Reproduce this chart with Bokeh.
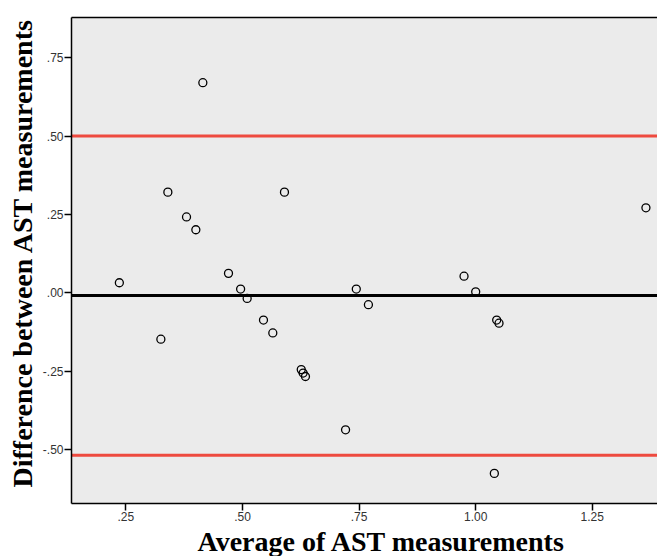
from bokeh.plotting import figure
from bokeh.models import Span, LinearAxis, FixedTicker, Range1d, Title
from bokeh.embed import file_html
from bokeh.resources import INLINE

# ---- data ----
avg_ast = [0.415, 0.340, 0.380, 0.400, 0.236, 0.590, 0.470, 0.496, 0.510,
           0.744, 0.770, 0.545, 0.565, 0.325, 0.975, 1.000, 1.045, 1.050,
           0.626, 0.630, 0.635, 0.721, 1.040, 1.365]
diff_ast = [0.670, 0.321, 0.242, 0.201, 0.032, 0.321, 0.062, 0.012, -0.018,
            0.012, -0.038, -0.087, -0.128, -0.148, 0.053, 0.003, -0.087, -0.097,
            -0.245, -0.256, -0.267, -0.437, -0.576, 0.271]
mean_diff = -0.009
upper_loa = 0.500
lower_loa = -0.518

x_ticks = [0.25, 0.50, 0.75, 1.00, 1.25]
x_tick_labels = [".25", ".50", ".75", "1.00", "1.25"]
y_ticks = [-0.50, -0.25, 0.00, 0.25, 0.50, 0.75]
y_tick_labels = ["-.50", "-.25", ".00", ".25", ".50", ".75"]

x_title = "Average of AST measurements"
y_title = "Difference between AST measurements"

# ---- figure ----
p = figure(width=657, height=556, output_backend="svg", toolbar_location=None,
           x_range=Range1d(0.1334, 1.3898), y_range=Range1d(-0.672, 0.878),
           min_border_left=71, min_border_right=0, min_border_top=17,
           min_border_bottom=52)
p.background_fill_color = "#ebebeb"
p.border_fill_color = "white"
p.outline_line_color = None
p.xgrid.grid_line_color = None
p.ygrid.grid_line_color = None

for ax in (p.xaxis[0], p.yaxis[0]):
    ax.axis_line_color = "black"
    ax.axis_line_width = 1.5
    ax.major_tick_line_color = "black"
    ax.major_tick_line_width = 1.5
    ax.major_tick_out = 7
    ax.major_tick_in = 0
    ax.minor_tick_out = 0
    ax.minor_tick_in = 0
    ax.major_label_text_font = "Liberation Sans"
    ax.major_label_text_font_size = "12px"
    ax.major_label_text_color = "#333333"

p.xaxis.ticker = FixedTicker(ticks=x_ticks)
p.xaxis.major_label_overrides = dict(zip(x_ticks, x_tick_labels))
p.xaxis.major_label_standoff = 1

p.yaxis.ticker = FixedTicker(ticks=y_ticks)
p.yaxis.major_label_overrides = dict(zip(y_ticks, y_tick_labels))
p.yaxis.major_label_standoff = 1

# top border line
top = LinearAxis(ticker=FixedTicker(ticks=[]), axis_line_color="black",
                 axis_line_width=1.5, major_tick_out=0, major_tick_in=0,
                 minor_tick_out=0, minor_tick_in=0,
                 major_label_text_font_size="0px")
p.add_layout(top, "above")

# axis titles
p.add_layout(Title(text=x_title, align="left", offset=126, standoff=0,
                   text_font="Liberation Serif", text_font_style="bold",
                   text_font_size="28px", text_color="black"), "below")
p.add_layout(Title(text=y_title, align="left", offset=16, standoff=4,
                   text_font="Liberation Serif", text_font_style="bold",
                   text_font_size="28px", text_color="black"), "left")

# reference lines
for loc, col in ((upper_loa, "#ee4a3f"), (lower_loa, "#ee4a3f"), (mean_diff, "black")):
    p.add_layout(Span(location=loc, dimension="width", line_color=col,
                      line_width=3, level="underlay"))

p.scatter(avg_ast, diff_ast, marker="circle", size=8, fill_color=None,
          line_color="black", line_width=1.3)

open("out.html", "w").write(file_html(p, INLINE))
